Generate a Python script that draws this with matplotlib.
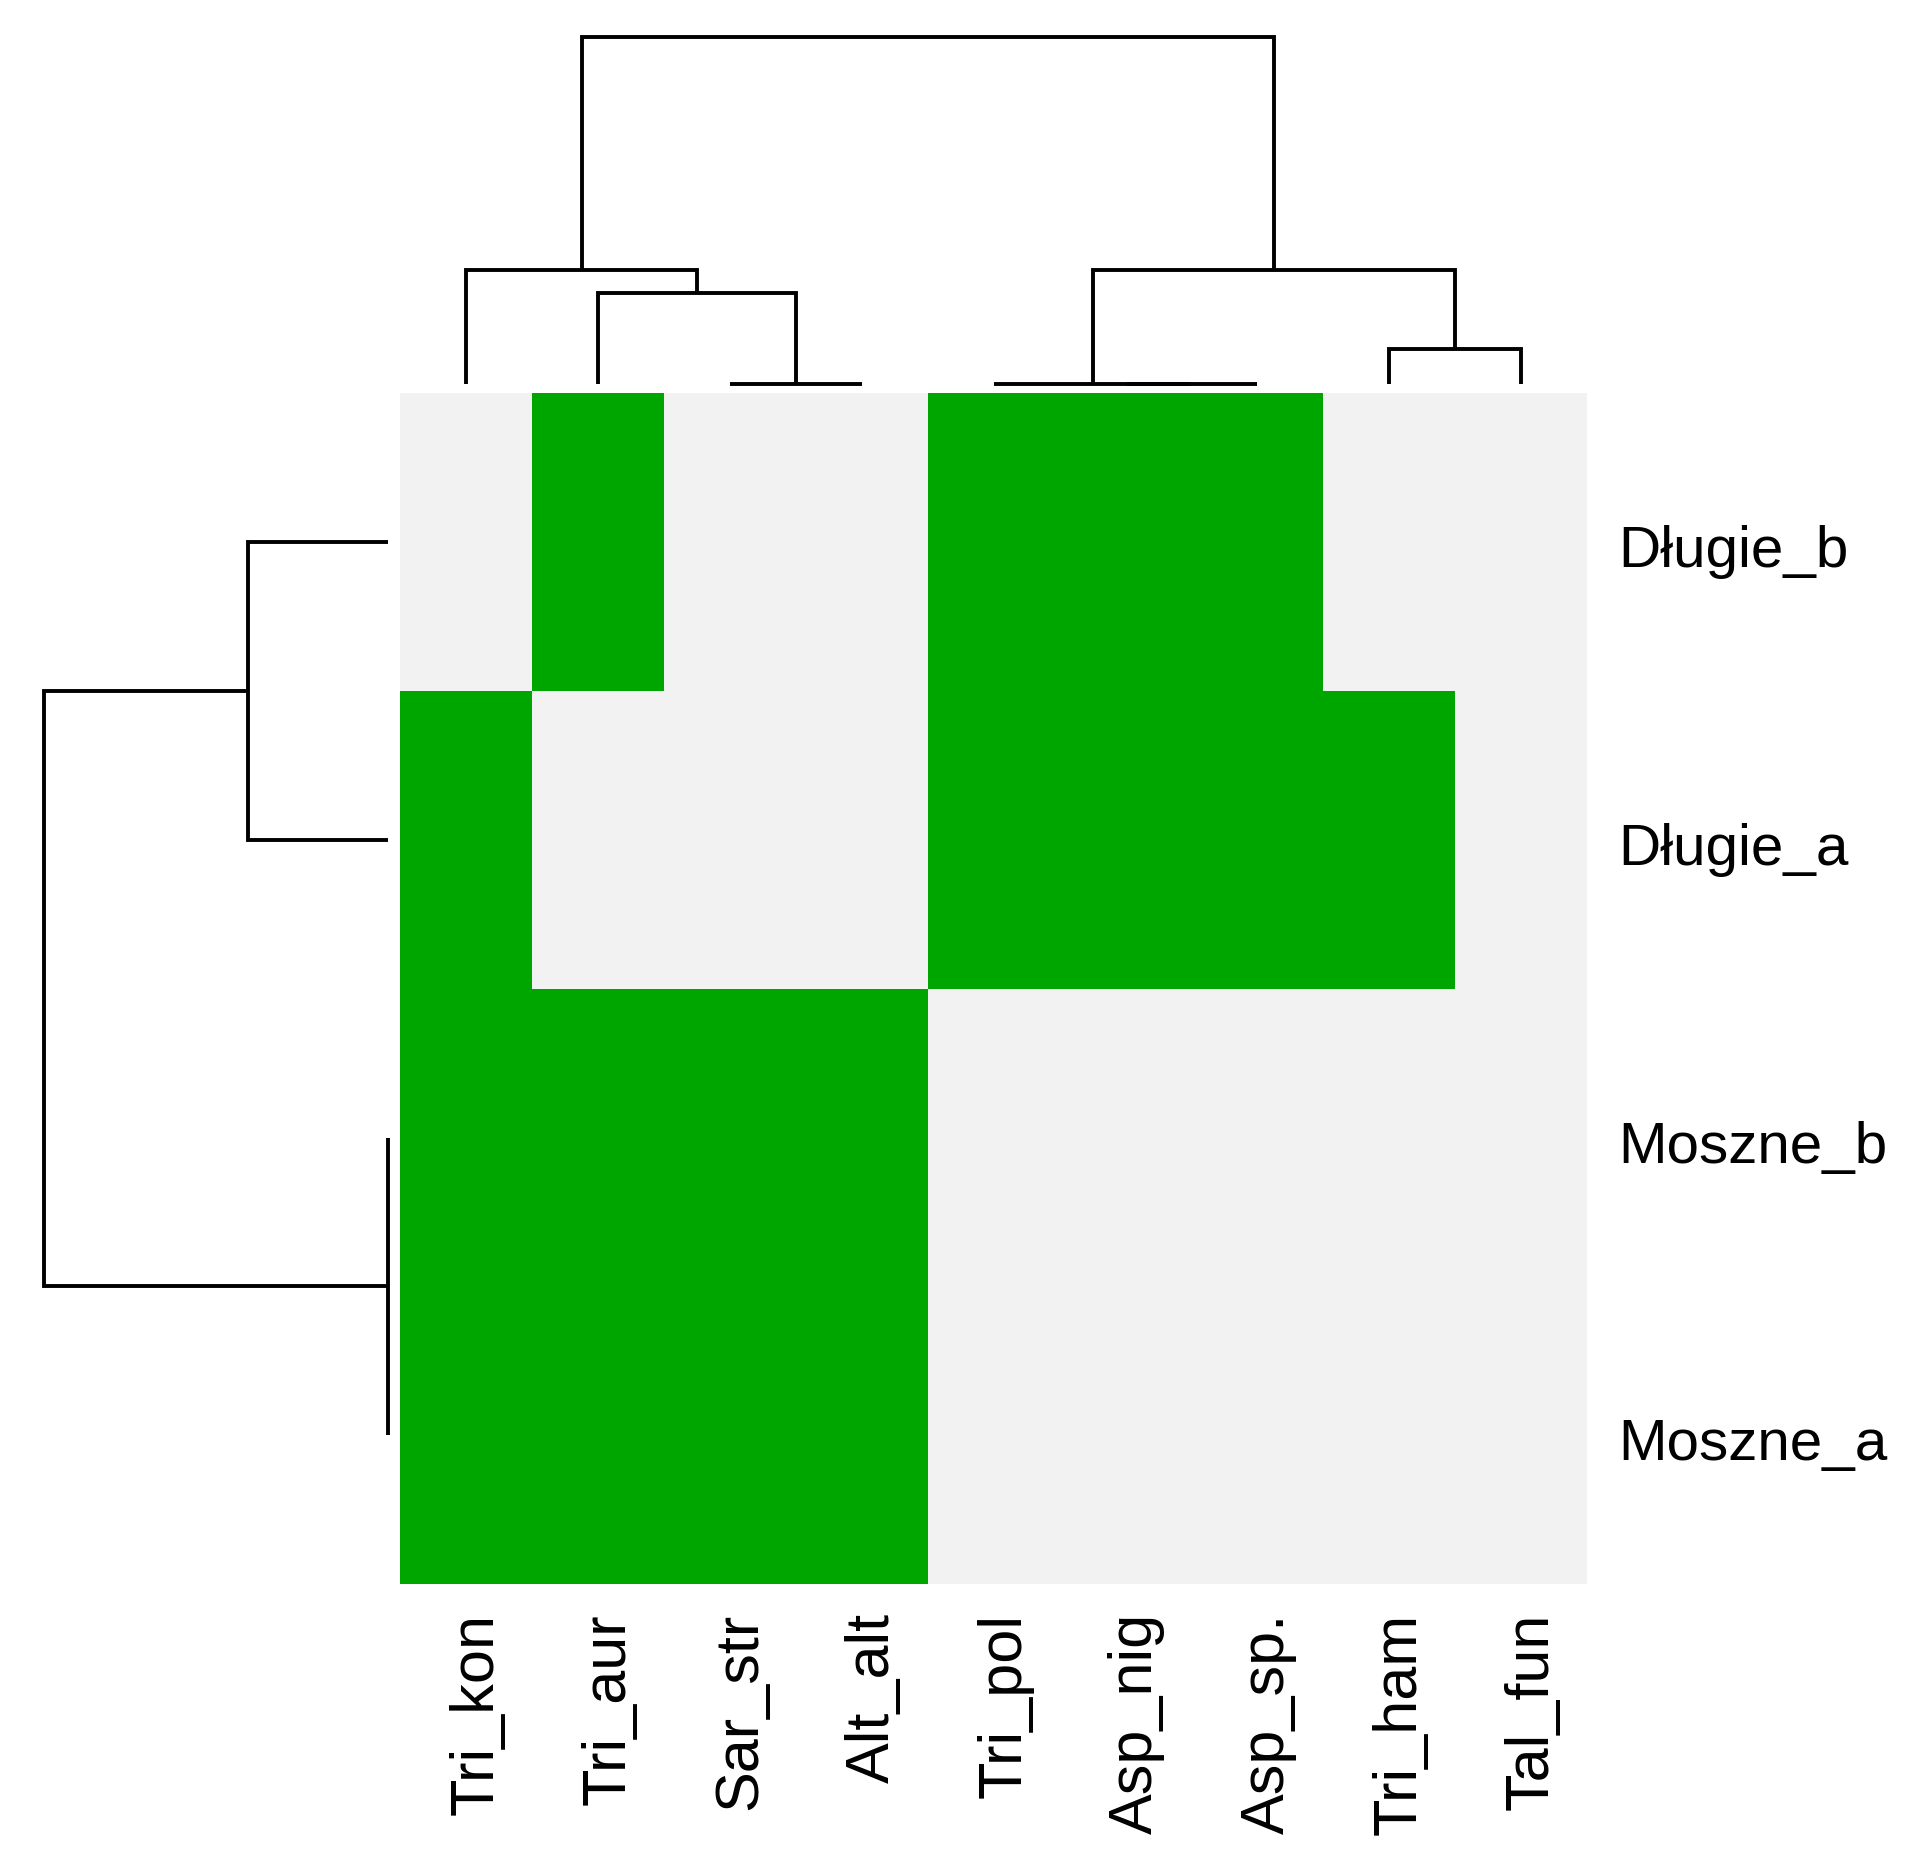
"""
Binary presence heatmap with row and column dendrograms
(base-R heatmap() look: dendrograms left/top, labels right/bottom).
"""

import numpy as np
import matplotlib
matplotlib.use("Agg")
import matplotlib.pyplot as plt
import matplotlib.transforms as mtransforms
from matplotlib.colors import ListedColormap

plt.rcParams["font.family"] = ["Liberation Sans", "DejaVu Sans"]

# ── Data ─────────────────────────────────────────────────────────────────────
col_labels = ["Tri_kon", "Tri_aur", "Sar_str", "Alt_alt", "Tri_pol",
              "Asp_nig", "Asp_sp.", "Tri_ham", "Tal_fun"]
row_labels = ["Długie_b", "Długie_a", "Moszne_b", "Moszne_a"]

# presence (1) / absence (0), rows top -> bottom
presence = [
    [0, 1, 0, 0, 1, 1, 1, 0, 0],
    [1, 0, 0, 0, 1, 1, 1, 1, 0],
    [1, 1, 1, 1, 0, 0, 0, 0, 0],
    [1, 1, 1, 1, 0, 0, 0, 0, 0],
]

# merges, R hclust style: negative = leaf (1-based), positive = earlier merge
col_merge_a = [-3, -2, -1, -6, -5, -8, 5, 3]
col_merge_b = [-4, 1, 2, -7, 4, -9, 6, 7]
col_height = [0.0, 0.52, 0.655, 0.0, 0.0, 0.20, 0.655, 2.0]

row_merge_a = [-1, -3, 1]
row_merge_b = [-2, -4, 2]
row_height = [0.815, 0.0, 2.0]

GREY = "#F2F2F2"
GREEN = "#00A600"
W, H = 1915, 1866


def draw_dendrogram(ax, merge_a, merge_b, heights, horizontal=False):
    """Draw rectangular dendrogram; leaves sit at positions i + 0.5."""
    pos, hgt = {}, {}

    def node(ref):
        if ref < 0:
            return -ref - 0.5, 0.0
        return pos[ref], hgt[ref]

    for k, (a, b, h) in enumerate(zip(merge_a, merge_b, heights), start=1):
        xa, ha = node(a)
        xb, hb = node(b)
        xs = [xa, xa, xb, xb]
        ys = [ha, h, h, hb]
        if horizontal:
            xs, ys = ys, xs
        ax.plot(xs, ys, color="black", lw=2.8, clip_on=False,
                solid_capstyle="butt", solid_joinstyle="miter")
        pos[k] = (xa + xb) / 2
        hgt[k] = h


def px_axes(fig, x0, y0, x1, y1):
    return fig.add_axes([x0 / W, 1 - y1 / H, (x1 - x0) / W, (y1 - y0) / H])


def px_offset(fig, dx, dy):
    # shift in pixels (dy positive = down)
    return mtransforms.ScaledTranslation(dx / fig.dpi, -dy / fig.dpi,
                                         fig.dpi_scale_trans)


fig = plt.figure(figsize=(W / 100, H / 100), dpi=100)

hm_left, hm_top, hm_right, hm_bottom = 400.5, 393.5, 1587, 1584

# heatmap
ax = px_axes(fig, hm_left, hm_top, hm_right, hm_bottom)
data = np.array(presence)
ax.pcolormesh(np.arange(len(col_labels) + 1), np.arange(len(row_labels) + 1),
              data, cmap=ListedColormap([GREY, GREEN]), vmin=0, vmax=1)
ax.set_xlim(0, len(col_labels))
ax.set_ylim(len(row_labels), 0)
ax.axis("off")

# row labels (right)
row_tf = mtransforms.blended_transform_factory(ax.transAxes, ax.transData)
for i, lab in enumerate(row_labels):
    ax.text(1.0, i + 0.5, lab, fontsize=42, ha="left", va="center_baseline",
            transform=row_tf + px_offset(fig, 31, 4))

# column labels (bottom, vertical)
col_tf = mtransforms.blended_transform_factory(ax.transData, ax.transAxes)
for j, lab in enumerate(col_labels):
    ax.text(j + 0.5, 0.0, lab, fontsize=44, rotation=90,
            ha="center", va="top",
            transform=col_tf + px_offset(fig, 11, 29))

# column dendrogram (top)
axc = px_axes(fig, hm_left, 36.5, hm_right, 383.5)
draw_dendrogram(axc, col_merge_a, col_merge_b, col_height)
axc.set_xlim(0, len(col_labels))
axc.set_ylim(0, max(col_height))
axc.axis("off")

# row dendrogram (left)
axr = px_axes(fig, 44, hm_top, 388.5, hm_bottom)
draw_dendrogram(axr, row_merge_a, row_merge_b, row_height, horizontal=True)
axr.set_ylim(len(row_labels), 0)
axr.set_xlim(max(row_height), 0)
axr.axis("off")

fig.savefig("out.png", dpi=100)
